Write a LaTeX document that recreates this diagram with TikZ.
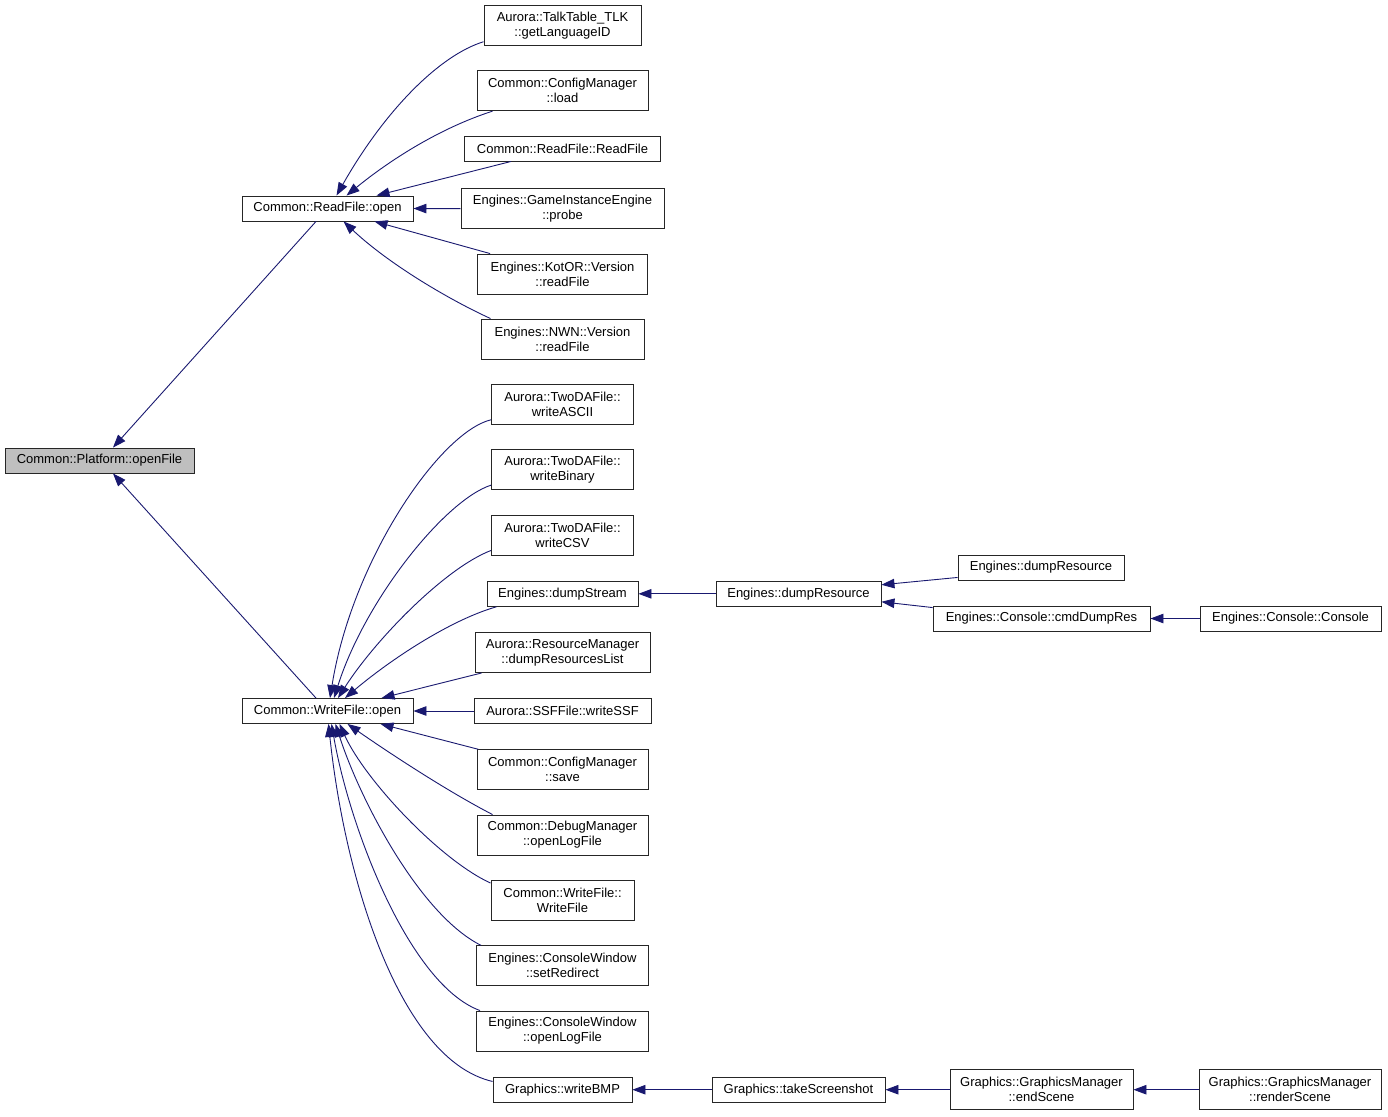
\documentclass[tikz,border=0pt]{standalone}
\usepackage{fontspec}
\setmainfont{Liberation Sans}
\usetikzlibrary{arrows.meta}
\definecolor{edgec}{HTML}{191970}
\definecolor{boxgray}{HTML}{BFBFBF}
\begin{document}
\begin{tikzpicture}[x=1pt,y=-1pt,
  box/.style={draw=black!85, line width=0.9pt, fill=white, rectangle, inner sep=0pt,
    minimum height=25pt, align=center, font=\fontsize{13}{15}\selectfont},
  box2/.style={box, minimum height=40pt},
  edge/.style={draw=edgec, line width=0.9pt, -{Triangle[length=13pt,width=9.5pt]}}]
\useasboundingbox (0,0) rectangle (1388,1116);
\fill[white] (0,0) rectangle (1388,1116);

% column 1-2
\node[box, fill=boxgray, minimum width=189pt] (of) at (99.5,460.5) {Common::Platform::openFile};
\node[box, minimum width=171pt] (rfo) at (327.5,208.5) {Common::ReadFile::open};
\node[box, minimum width=171pt] (wfo) at (327.5,711) {Common::WriteFile::open};

% ReadFile column
\node[box2, minimum width=157pt] (gl) at (562.5,25.3) {Aurora::TalkTable\_TLK\\::getLanguageID};
\node[box2, minimum width=171pt] (ld) at (562.5,90.7) {Common::ConfigManager\\::load};
\node[box, minimum width=196pt] (rrf) at (562.5,148.5) {Common::ReadFile::ReadFile};
\node[box2, minimum width=203pt] (pr) at (562.5,208.7) {Engines::GameInstanceEngine\\::probe};
\node[box2, minimum width=170pt] (kv) at (562.5,274) {Engines::KotOR::Version\\::readFile};
\node[box2, minimum width=163pt] (nv) at (562.5,339) {Engines::NWN::Version\\::readFile};

% WriteFile column
\node[box2, minimum width=142pt] (wa) at (562.5,404.3) {Aurora::TwoDAFile::\\writeASCII};
\node[box2, minimum width=142pt] (wb) at (562.5,469.7) {Aurora::TwoDAFile::\\writeBinary};
\node[box2, minimum width=142pt] (wc) at (562.5,535) {Aurora::TwoDAFile::\\writeCSV};
\node[box, minimum width=151pt] (ds) at (562.5,593.8) {Engines::dumpStream};
\node[box2, minimum width=175pt] (drl) at (562.5,652.5) {Aurora::ResourceManager\\::dumpResourcesList};
\node[box, minimum width=177pt] (ssf) at (562.5,711) {Aurora::SSFFile::writeSSF};
\node[box2, minimum width=171pt] (sv) at (562.5,769.8) {Common::ConfigManager\\::save};
\node[box2, minimum width=171pt] (dbg) at (562.5,835) {Common::DebugManager\\::openLogFile};
\node[box2, minimum width=143pt] (wwf) at (562.5,900.5) {Common::WriteFile::\\WriteFile};
\node[box2, minimum width=172pt] (sr) at (562.5,965.8) {Engines::ConsoleWindow\\::setRedirect};
\node[box2, minimum width=172pt] (cl) at (562.5,1031) {Engines::ConsoleWindow\\::openLogFile};
\node[box, minimum width=139pt] (wbmp) at (562.5,1089.7) {Graphics::writeBMP};

% right part
\node[box, minimum width=165pt] (dm) at (798.5,593.8) {Engines::dumpResource};
\node[box, minimum width=166pt] (dr) at (1041,567.5) {Engines::dumpResource};
\node[box, minimum width=217pt] (cmd) at (1041.5,618.5) {Engines::Console::cmdDumpRes};
\node[box, minimum width=181pt] (con) at (1290.5,618.5) {Engines::Console::Console};
\node[box, minimum width=173pt] (ts) at (798.5,1089.7) {Graphics::takeScreenshot};
\node[box2, minimum width=183pt] (es) at (1041.5,1089.7) {Graphics::GraphicsManager\\::endScene};
\node[box2, minimum width=182pt] (rs) at (1290,1089.7) {Graphics::GraphicsManager\\::renderScene};

% edges to openFile
\draw[edge] ([xshift=-11.5pt]rfo.south) -- ([xshift=13.5pt]of.north);
\draw[edge] ([xshift=-11.5pt]wfo.north) -- ([xshift=13.5pt]of.south);

% edges to ReadFile::open
\draw[edge] ([yshift=4pt]gl.south west) .. controls (440,55) and (385,110) .. ([xshift=9pt]rfo.north);
\draw[edge] ([xshift=16pt]ld.south west) .. controls (440,128) and (390,160) .. ([xshift=19pt]rfo.north);
\draw[edge] ([xshift=47pt]rrf.south west) -- ([xshift=49pt]rfo.north);
\draw[edge] (pr.west) -- (rfo.east);
\draw[edge] ([xshift=13pt]kv.north west) -- ([xshift=47pt]rfo.south);
\draw[edge] ([xshift=10pt]nv.north west) .. controls (450,300) and (390,265) .. ([xshift=16pt]rfo.south);

% edges to WriteFile::open
\draw[edge] ([yshift=5pt]wa.south west) .. controls (440,432) and (352,560) .. ([xshift=2.5pt]wfo.north);
\draw[edge] ([yshift=5pt]wb.south west) .. controls (445,500) and (365,600) .. ([xshift=6.5pt]wfo.north);
\draw[edge] ([yshift=5pt]wc.south west) .. controls (445,568) and (375,640) .. ([xshift=10.5pt]wfo.north);
\draw[edge] ([xshift=10pt]ds.south west) .. controls (450,620) and (390,660) .. ([xshift=17.5pt]wfo.north);
\draw[edge] ([xshift=7pt]drl.south west) -- ([xshift=54pt]wfo.north);
\draw[edge] (ssf.west) -- (wfo.east);
\draw[edge] ([xshift=2pt]sv.north west) -- ([xshift=53pt]wfo.south);
\draw[edge] ([xshift=16pt]dbg.north west) .. controls (445,790) and (385,750) .. ([xshift=20pt]wfo.south);
\draw[edge] ([yshift=-3pt]wwf.north west) .. controls (440,860) and (365,780) .. ([xshift=12pt]wfo.south);
\draw[edge] ([xshift=5pt]sr.north west) .. controls (420,915) and (360,800) .. ([xshift=8pt]wfo.south);
\draw[edge] ([xshift=4pt]cl.north west) .. controls (410,985) and (350,830) .. ([xshift=4pt]wfo.south);
\draw[edge] ([yshift=-4.7pt]wbmp.north west) .. controls (400,1060) and (345,880) .. ([xshift=1pt]wfo.south);

% right part edges
\draw[edge] (dm.west) -- (ds.east);
\draw[edge] ([yshift=3pt]dr.south west) -- ([yshift=9pt]dm.east);
\draw[edge] ([yshift=-2pt]cmd.north west) -- ([yshift=-8pt]dm.east);
\draw[edge] (con.west) -- (cmd.east);
\draw[edge] (ts.west) -- (wbmp.east);
\draw[edge] (es.west) -- (ts.east);
\draw[edge] (rs.west) -- (es.east);
\end{tikzpicture}
\end{document}
